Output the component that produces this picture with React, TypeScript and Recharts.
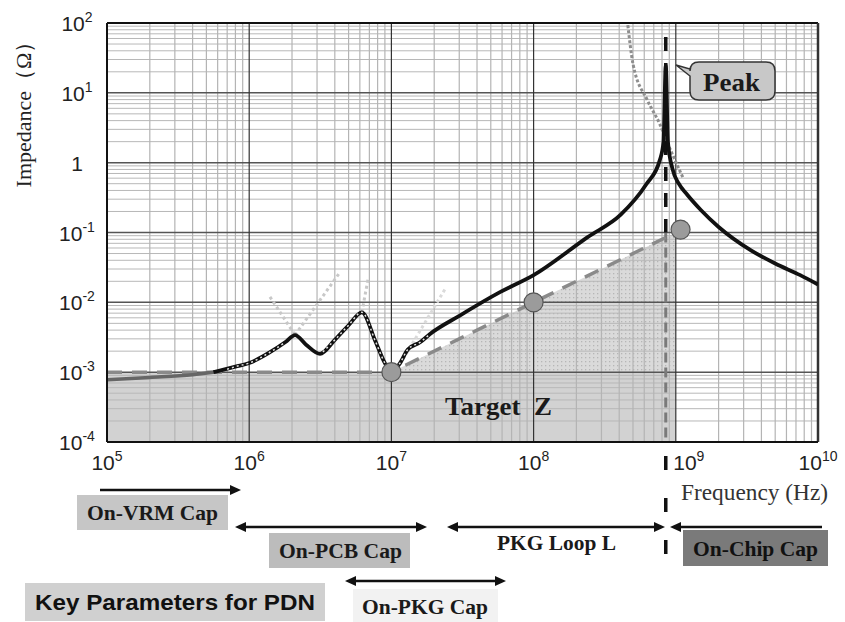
import React from 'react';
import { ComposedChart, Line, Area, Scatter, XAxis, YAxis, ReferenceLine } from 'recharts';

// ---- axis ticks ----
const xTicks = [1e5, 1e6, 1e7, 1e8, 1e9, 1e10];
const xTickExp = ['5', '6', '7', '8', '9', '10'];
const yTicks = [1e-4, 1e-3, 1e-2, 1e-1, 1, 1e1, 1e2];
const yTickBase = ['10', '10', '10', '10', '1', '10', '10'];
const yTickExp = ['-4', '-3', '-2', '-1', '', '1', '2'];
const xDecades = [1e5, 1e6, 1e7, 1e8, 1e9];
const yDecades = [1e-4, 1e-3, 1e-2, 1e-1, 1, 1e1];
const minorMult = [2, 3, 4, 5, 6, 7, 8, 9];

// ---- series ----
const vrmFreq = [1e5, 2e5, 4e5, 5.6e5];
const vrmZ = [7.8e-4, 8.4e-4, 9.2e-4, 1e-3];

const mainFreq = [5.6e5, 8e5, 1e6, 1.4e6, 1.8e6, 2.1e6, 2.5e6, 3.15e6, 4e6, 5e6, 6.2e6, 7.7e6, 9e6, 1e7, 1.15e7, 1.3e7, 1.6e7, 1.86e7, 3e7, 5.8e7, 1e8, 2.4e8, 4.1e8, 6.2e8, 7.7e8, 8.2e8, 8.5e8, 8.8e8, 9.5e8, 1.05e9, 1.2e9, 1.5e9, 2e9, 3.4e9, 5e9, 7.5e9, 1e10];
const mainZ = [1e-3, 1.2e-3, 1.35e-3, 1.93e-3, 2.7e-3, 3.4e-3, 2.5e-3, 1.83e-3, 2.9e-3, 4.7e-3, 7.2e-3, 2.8e-3, 1.35e-3, 1e-3, 1.35e-3, 2.1e-3, 2.7e-3, 3.5e-3, 6.4e-3, 0.014, 0.0245, 0.086, 0.18, 0.49, 1.07, 2.0, 25, 2.0, 0.8, 0.5, 0.35, 0.21, 0.12, 0.055, 0.036, 0.0245, 0.018];

const dotSeg1Freq = [7e5, 8e5, 1e6, 1.4e6, 1.8e6];
const dotSeg1Z = [1.1e-3, 1.2e-3, 1.35e-3, 1.93e-3, 2.7e-3];
const dotSeg2Freq = [3.3e6, 4e6, 5e6, 6.2e6, 7.7e6, 9e6, 1e7, 1.15e7, 1.3e7, 1.6e7, 1.86e7];
const dotSeg2Z = [1.95e-3, 2.9e-3, 4.7e-3, 7.2e-3, 2.8e-3, 1.35e-3, 1e-3, 1.35e-3, 2.1e-3, 2.7e-3, 3.5e-3];

const capAFreq = [1.4e6, 2.1e6];
const capAZ = [0.012, 3.4e-3];
const capBFreq = [2.1e6, 4.35e6];
const capBZ = [3.4e-3, 0.027];
const capCFreq = [6.2e6, 6.85e6];
const capCZ = [7.2e-3, 0.0215];
const capDFreq = [1.15e7, 2.38e7];
const capDZ = [1.3e-3, 0.0154];
const chipFreq = [4.6e8, 5e8, 6.3e8, 7.7e8, 8.8e8, 1.12e9];
const chipZ = [93, 26, 7.9, 3.6, 1.85, 0.62];

const targetFreq = [1e5, 1e7, 8.5e8];
const targetZ = [1e-3, 1e-3, 0.085];
const shadeFreq = [1e5, 1e9];
const shadeZ = [1e-3, 1e-3];
const triFreq = [1e7, 1e9];
const triZ = [1e-3, 0.1];
const markerFreq = [1e7, 1e8, 1.08e9];
const markerZ = [1e-3, 1e-2, 0.11];

const peakFreq = 8.5e8;
const peakLineTop = 63;
const peakLineBottom = 1.9e-6;

const pts = (f: number[], z: number[]) => f.map((v, i) => ({ f: v, z: z[i] }));

const SERIF = '"Liberation Serif", "Times New Roman", serif';
const SANS = '"Liberation Sans", Arial, sans-serif';

const XTick = (props: any) => {
  const { x, y, payload } = props;
  const i = xTicks.indexOf(payload.value);
  const dx = payload.value === 1e9 ? 13 : 0;
  return (
    <text x={x + dx} y={y + 28} textAnchor="middle" fontFamily={SANS} fontSize={21} fill="#222">
      <tspan>10</tspan>
      <tspan dy={-9} fontSize={14}>{xTickExp[i]}</tspan>
    </text>
  );
};

const YTick = (props: any) => {
  const { x, y, payload } = props;
  const i = yTicks.indexOf(payload.value);
  return (
    <text x={x - 30} y={y + 8} textAnchor="middle" fontFamily={SANS} fontSize={21} fill="#222">
      <tspan>{yTickBase[i]}</tspan>
      {yTickExp[i] ? <tspan dy={-9} fontSize={14}>{yTickExp[i]}</tspan> : null}
    </text>
  );
};

const Marker = (props: any) => (
  <circle cx={props.cx} cy={props.cy} r={9.5} fill="#9b9b9b" stroke="#555" strokeWidth={1.2} />
);

const Arrow = ({ x1, x2, y, left, right }: { x1: number; x2: number; y: number; left?: boolean; right?: boolean }) => (
  <g>
    <line x1={left ? x1 + 6 : x1} x2={right ? x2 - 6 : x2} y1={y} y2={y} stroke="#111" strokeWidth={2.5} />
    {right ? <polygon points={`${x2},${y} ${x2 - 11},${y - 5} ${x2 - 11},${y + 5}`} fill="#111" /> : null}
    {left ? <polygon points={`${x1},${y} ${x1 + 11},${y - 5} ${x1 + 11},${y + 5}`} fill="#111" /> : null}
  </g>
);

const LabelBox = ({ x, y, w, h, fill, text, tx, tw, ty, color }: any) => (
  <g>
    <rect x={x} y={y} width={w} height={h} fill={fill} />
    <text x={tx} y={ty} fontFamily={SERIF} fontWeight="bold" fontSize={20} fill={color || '#1a1a1a'} textLength={tw} lengthAdjust="spacingAndGlyphs">{text}</text>
  </g>
);

export default function App() {
  const minorX: number[] = [];
  xDecades.forEach((d) => minorMult.forEach((m) => minorX.push(d * m)));
  const minorY: number[] = [];
  yDecades.forEach((d) => minorMult.forEach((m) => minorY.push(d * m)));

  return (
    <div style={{ position: 'absolute', left: 0, top: 0, width: 845, height: 622, background: '#fff' }}>
      <svg width={0} height={0} style={{ position: 'absolute' }}>
        <defs>
          <pattern id="dotPat" width="4" height="4" patternUnits="userSpaceOnUse">
            <rect width="4" height="4" fill="#d4d4d4" />
            <rect x="1" y="1" width="1.3" height="1.3" fill="#a9a9a9" />
          </pattern>
        </defs>
      </svg>
      <ComposedChart width={845} height={622} margin={{ top: 23, right: 27, bottom: 150, left: 0 }}>
        <XAxis dataKey="f" type="number" scale="log" domain={[1e5, 1e10]} ticks={xTicks} interval={0} allowDataOverflow height={30}
          tickLine={false} tickSize={0} tickMargin={0} axisLine={{ stroke: '#111', strokeWidth: 2 }} tick={<XTick />} />
        <YAxis dataKey="z" type="number" scale="log" domain={[1e-4, 1e2]} ticks={yTicks} interval={0} allowDataOverflow width={107}
          tickLine={false} tickSize={0} tickMargin={0} axisLine={{ stroke: '#111', strokeWidth: 2 }} tick={<YTick />} />

        {minorY.map((v) => (
          <ReferenceLine key={'my' + v} y={v} stroke="#b8b8b8" strokeWidth={1} />
        ))}
        {minorX.map((v) => (
          <ReferenceLine key={'mx' + v} x={v} stroke="#b4b4b4" strokeWidth={1.2} />
        ))}
        {yTicks.slice(1, 6).map((v) => (
          <ReferenceLine key={'My' + v} y={v} stroke="#555" strokeWidth={1.5} />
        ))}
        {xTicks.slice(1, 5).map((v) => (
          <ReferenceLine key={'Mx' + v} x={v} stroke="#333" strokeWidth={1.2} />
        ))}
        <ReferenceLine y={1e2} stroke="#111" strokeWidth={2} />
        <ReferenceLine x={1e10} stroke="#333" strokeWidth={2.5} />

        <Area data={pts(shadeFreq, shadeZ)} dataKey="z" type="linear" fill="#888" fillOpacity={0.38} stroke="none" baseValue={1e-4} isAnimationActive={false} />
        <Area data={pts(triFreq, triZ)} dataKey="z" type="linear" fill="url(#dotPat)" fillOpacity={0.85} stroke="none" baseValue={1e-3} isAnimationActive={false} />

        <ReferenceLine segment={[{ x: peakFreq, y: 0.1 }, { x: peakFreq, y: 1e-4 }]} stroke="#7a7a7a" strokeWidth={3} strokeDasharray="10 5" ifOverflow="visible" />

        <Line data={pts(targetFreq, targetZ)} dataKey="z" type="linear" stroke="#8a8a8a" strokeWidth={3.5} strokeDasharray="15 10" dot={false} activeDot={false} isAnimationActive={false} />
        <Line data={pts(vrmFreq, vrmZ)} dataKey="z" type="monotone" stroke="#666" strokeWidth={3.5} dot={false} activeDot={false} isAnimationActive={false} />

        <Line data={pts(capAFreq, capAZ)} dataKey="z" type="linear" stroke="#c8c8c8" strokeWidth={3} strokeDasharray="3 3" dot={false} activeDot={false} isAnimationActive={false} />
        <Line data={pts(capBFreq, capBZ)} dataKey="z" type="linear" stroke="#c8c8c8" strokeWidth={3} strokeDasharray="3 3" dot={false} activeDot={false} isAnimationActive={false} />
        <Line data={pts(capCFreq, capCZ)} dataKey="z" type="linear" stroke="#c8c8c8" strokeWidth={3} strokeDasharray="3 3" dot={false} activeDot={false} isAnimationActive={false} />
        <Line data={pts(capDFreq, capDZ)} dataKey="z" type="linear" stroke="#dadada" strokeWidth={3} strokeDasharray="3 3" dot={false} activeDot={false} isAnimationActive={false} />
        <Line data={pts(chipFreq, chipZ)} dataKey="z" type="monotone" stroke="#8e8e8e" strokeWidth={3} strokeDasharray="3 2" dot={false} activeDot={false} isAnimationActive={false} />

        <ReferenceLine segment={[{ x: peakFreq, y: peakLineTop }, { x: peakFreq, y: 0.1 }]} stroke="#111" strokeWidth={3.5} strokeDasharray="14 12" ifOverflow="visible" />
        <ReferenceLine segment={[{ x: peakFreq, y: 1e-4 }, { x: peakFreq, y: peakLineBottom }]} stroke="#111" strokeWidth={3.5} strokeDasharray="0 14 14 14" ifOverflow="visible" />

        <Line data={pts(mainFreq, mainZ)} dataKey="z" type="monotone" stroke="#111" strokeWidth={3.8} dot={false} activeDot={false} isAnimationActive={false} />
        <Line data={pts(dotSeg1Freq, dotSeg1Z)} dataKey="z" type="monotone" stroke="#e4e4e4" strokeWidth={1.5} strokeDasharray="2 3" dot={false} activeDot={false} isAnimationActive={false} />
        <Line data={pts(dotSeg2Freq, dotSeg2Z)} dataKey="z" type="monotone" stroke="#e4e4e4" strokeWidth={1.5} strokeDasharray="2 3" dot={false} activeDot={false} isAnimationActive={false} />

        <Scatter data={pts(markerFreq, markerZ)} dataKey="z" shape={<Marker />} isAnimationActive={false} />
      </ComposedChart>

      <svg width={845} height={622} style={{ position: 'absolute', left: 0, top: 0, pointerEvents: 'none' }}>
        <text transform="translate(31,109) rotate(-90)" textAnchor="middle" fontFamily={SERIF} fontSize={22} fill="#222">Impedance（Ω）</text>

        <path d="M 699 62 H 766 Q 775 62 775 71 V 91 Q 775 100 766 100 H 699 Q 690 100 690 91 V 76 L 676 65 L 690 69 V 71 Q 690 62 699 62 Z" fill="#c8c8c8" stroke="#333" strokeWidth={1.5} />
        <text x={703} y={91} fontFamily={SERIF} fontWeight="bold" fontSize={26} fill="#1a1a1a" textLength={57} lengthAdjust="spacingAndGlyphs">Peak</text>

        <text x={445} y={415} fontFamily={SERIF} fontWeight="bold" fontSize={26} fill="#1a1a1a" textLength={107} lengthAdjust="spacingAndGlyphs">{'Target\u00a0\u00a0Z'}</text>

        <text x={681} y={500} fontFamily={SERIF} fontSize={23} fill="#333" textLength={147} lengthAdjust="spacingAndGlyphs">Frequency (Hz)</text>

        <Arrow x1={100} x2={241} y={490} right />
        <Arrow x1={235} x2={427} y={527} left right />
        <Arrow x1={447} x2={665} y={527} left right />
        <Arrow x1={670} x2={822} y={527} left />
        <Arrow x1={345} x2={506} y={581} left right />

        <LabelBox x={77} y={495} w={151} h={35} fill="#c6c6c6" text="On-VRM Cap" tx={87} ty={520} tw={131} />
        <LabelBox x={269} y={533} w={141} h={35} fill="#bcbcbc" text="On-PCB Cap" tx={279} ty={558} tw={123} />
        <LabelBox x={683} y={530} w={145} h={36} fill="#7a7a7a" text="On-Chip Cap" tx={693} ty={556} tw={125} color="#111" />
        <LabelBox x={353} y={589} w={145} h={33} fill="#f2f2f2" text="On-PKG Cap" tx={362} ty={614} tw={126} />
        <text x={497} y={550} fontFamily={SERIF} fontWeight="bold" fontSize={20} fill="#1a1a1a" textLength={119} lengthAdjust="spacingAndGlyphs">PKG Loop L</text>

        <rect x={25} y={583} width={300} height={38} fill="#d0d0d0" />
        <text x={35} y={610} fontFamily={SANS} fontWeight="bold" fontSize={22} fill="#111" textLength={280} lengthAdjust="spacingAndGlyphs">Key Parameters for PDN</text>
      </svg>
    </div>
  );
}
